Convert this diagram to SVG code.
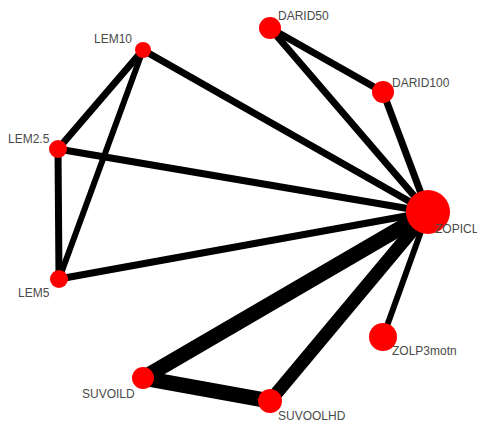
<svg xmlns="http://www.w3.org/2000/svg" width="477" height="425" viewBox="0 0 477 425">
<style>
.e{stroke:#000;stroke-linecap:butt;fill:none}
.n{fill:#ff0000}
.l{font-family:"Liberation Sans",Arial,sans-serif;font-size:12px;fill:#4a4a4a}
</style>
<rect width="477" height="425" fill="#fff"/>
<g id="edges">
<line class="e" x1="143" y1="50" x2="58" y2="149" stroke-width="7"/>
<line class="e" x1="143" y1="50" x2="59" y2="279" stroke-width="6"/>
<line class="e" x1="143" y1="50" x2="428" y2="212" stroke-width="7"/>
<line class="e" x1="58" y1="149" x2="59" y2="279" stroke-width="7"/>
<line class="e" x1="58" y1="149" x2="428" y2="212" stroke-width="7"/>
<line class="e" x1="59" y1="279" x2="428" y2="212" stroke-width="7"/>
<line class="e" x1="270" y1="28" x2="383" y2="92" stroke-width="7"/>
<line class="e" x1="270" y1="28" x2="428" y2="212" stroke-width="7"/>
<line class="e" x1="383" y1="92" x2="428" y2="212" stroke-width="7"/>
<line class="e" x1="428" y1="212" x2="383" y2="337" stroke-width="6"/>
<line class="e" x1="428" y1="212" x2="143" y2="378" stroke-width="15"/>
<line class="e" x1="428" y1="212" x2="270" y2="401" stroke-width="13"/>
<line class="e" x1="143" y1="378" x2="270" y2="401" stroke-width="15"/>
</g>
<g id="LEM10"><circle class="n" cx="143" cy="50" r="8"/><text class="l" x="94" y="43">LEM10</text></g>
<g id="LEM2.5"><circle class="n" cx="58" cy="149" r="9"/><text class="l" x="8" y="143">LEM2.5</text></g>
<g id="LEM5"><circle class="n" cx="59" cy="279" r="9"/><text class="l" x="18" y="297">LEM5</text></g>
<g id="DARID50"><circle class="n" cx="270" cy="28" r="11"/><text class="l" x="278" y="20">DARID50</text></g>
<g id="DARID100"><circle class="n" cx="383" cy="92" r="11"/><text class="l" x="392" y="87">DARID100</text></g>
<g id="ZOPICL"><circle class="n" cx="428" cy="212" r="22"/><text class="l" x="435" y="233">ZOPICL</text></g>
<g id="ZOLP3motn"><circle class="n" cx="383" cy="337" r="14"/><text class="l" x="392" y="355">ZOLP3motn</text></g>
<g id="SUVOILD"><circle class="n" cx="143" cy="378" r="11"/><text class="l" x="82" y="398">SUVOILD</text></g>
<g id="SUVOOLHD"><circle class="n" cx="270" cy="401" r="12"/><text class="l" x="278" y="420">SUVOOLHD</text></g>
</svg>
